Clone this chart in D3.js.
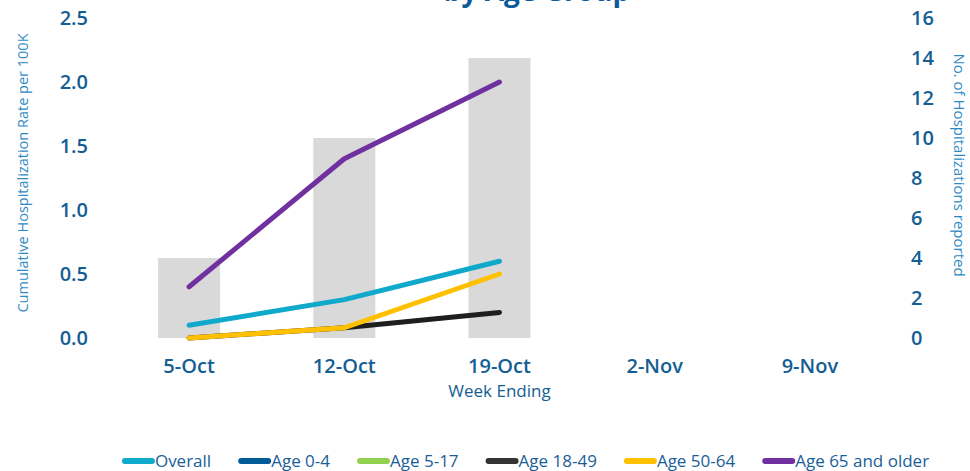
<!DOCTYPE html>
<html><head><meta charset="utf-8">
<script src="https://cdn.jsdelivr.net/npm/d3@7"></script>
<style>
body{margin:0;background:#fff;}
text{font-family:"Open Sans",sans-serif;}
</style></head>
<body><svg id="c" width="970" height="471"></svg>
<script>
const categories = ["5-Oct","12-Oct","19-Oct","2-Nov","9-Nov"];
const barValues = [4, 10, 14, null, null];
const seriesNames = ["Overall","Age 0-4","Age 5-17","Age 18-49","Age 50-64","Age 65 and older"];
const seriesColors = ["#0fa9cc","#005b96","#92d050","#1e1e1e","#ffc000","#7030a0"];
const overall = [0.1, 0.3, 0.6, null, null];
const age0_4 = [null, null, null, null, null];
const age5_17 = [null, null, null, null, null];
const age18_49 = [0, 0.08, 0.2, null, null];
const age50_64 = [0, 0.08, 0.5, null, null];
const age65 = [0.4, 1.4, 2.0, null, null];
const seriesValues = [overall, age0_4, age5_17, age18_49, age50_64, age65];
const leftTicks = [0, 0.5, 1.0, 1.5, 2.0, 2.5];
const rightTicks = [0, 2, 4, 6, 8, 10, 12, 14, 16];

const svg = d3.select("#c");
const tickColor = "#145e94";
const titleColor = "#2f8ac4";

const x = d3.scaleBand().domain(categories).range([111.5, 887.5]).paddingInner(0.6).paddingOuter(0.3);
const xc = d => x(d) + x.bandwidth()/2;
const yL = d3.scaleLinear().domain([0, 2.5]).range([338, 18]);
const yR = d3.scaleLinear().domain([0, 16]).range([338, 18]);

// title (clipped at top, as in the source image)
svg.append("text").attr("x", 537).attr("y", 1).attr("text-anchor", "middle")
  .attr("font-size", 28).attr("font-weight", 700).attr("fill", "#0b5a99").text("by Age Group");

// bars
svg.append("g").selectAll("rect").data(categories.map((c,i)=>({c, v: barValues[i]})).filter(d=>d.v!=null))
  .join("rect")
  .attr("x", d => xc(d.c) - 31).attr("width", 62)
  .attr("y", d => yR(d.v)).attr("height", d => yR(0) - yR(d.v))
  .attr("fill", "#d9d9d9");

// axes
const axL = svg.append("g").attr("transform", "translate(88,0)")
  .call(d3.axisLeft(yL).tickValues(leftTicks).tickFormat(d3.format(".1f")).tickSize(0).tickPadding(0));
const axR = svg.append("g").attr("transform", "translate(911,0)")
  .call(d3.axisRight(yR).tickValues(rightTicks).tickSize(0).tickPadding(0));
const axB = svg.append("g").attr("transform", "translate(0,338)")
  .call(d3.axisBottom(x).tickSize(0).tickPadding(21));
[axL, axR, axB].forEach(a => {
  a.select(".domain").remove();
  a.selectAll("text").attr("font-size", 20).attr("font-weight", 600).attr("fill", tickColor)
    .attr("font-family", "'Open Sans',sans-serif");
});
axB.selectAll("text").attr("dy", "0.71em");

// axis titles
svg.append("text").attr("transform", "translate(28,173) rotate(-90)").attr("text-anchor", "middle")
  .attr("font-size", 14.5).attr("fill", titleColor).text("Cumulative Hospitalization  Rate per 100K");
svg.append("text").attr("transform", "translate(954,165) rotate(90)").attr("text-anchor", "middle")
  .attr("font-size", 15).attr("fill", titleColor).text("No. of Hospitalizations reported");
svg.append("text").attr("x", 499.5).attr("y", 397).attr("text-anchor", "middle")
  .attr("font-size", 17).attr("fill", tickColor).text("Week Ending");

// lines
const line = d3.line().defined(d => d.v != null).x(d => xc(d.c)).y(d => yL(d.v));
seriesValues.forEach((vals, i) => {
  const data = categories.map((c, j) => ({c, v: vals[j]}));
  svg.append("path").datum(data).attr("d", line).attr("fill", "none")
    .attr("stroke", seriesColors[i]).attr("stroke-width", 5)
    .attr("stroke-linecap", "round").attr("stroke-linejoin", "round");
});

// legend
const lg = svg.append("g");
let cx = 0;
seriesNames.forEach((n, i) => {
  const g = lg.append("g");
  g.append("line").attr("x1", 0).attr("x2", 27).attr("y1", 0).attr("y2", 0)
    .attr("stroke", seriesColors[i] === "#1e1e1e" ? "#333" : seriesColors[i]).attr("stroke-width", 6).attr("stroke-linecap", "round");
  const t = g.append("text").attr("x", 30).attr("y", 0).attr("dy", "0.35em")
    .attr("font-size", 17).attr("fill", "#1a5e98").text(n);
  const w = 30 + t.node().getComputedTextLength();
  g.attr("transform", `translate(${cx},0)`);
  cx += w + 30;
});
const total = cx - 30;
lg.attr("transform", `translate(${527 - total/2},461)`);
</script></body></html>
